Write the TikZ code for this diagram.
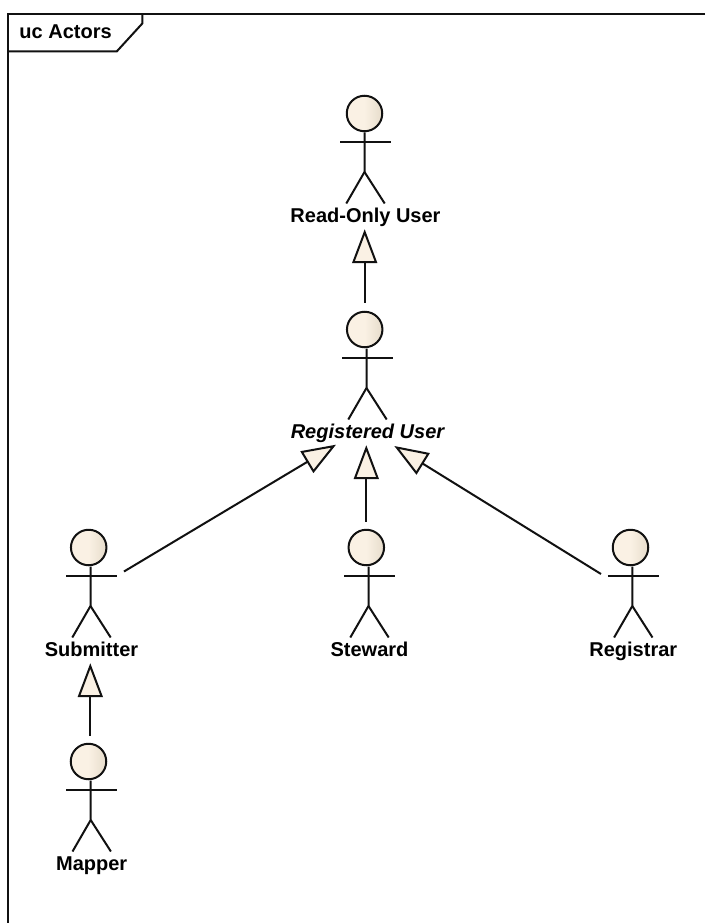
\documentclass[tikz,border=0pt]{standalone}
\usepackage{fontspec}
\setmainfont{Liberation Sans}
\usetikzlibrary{arrows.meta}

\definecolor{actorfill}{HTML}{FAF1E4}
\definecolor{actorshade}{HTML}{E6DCCB}
\definecolor{linecol}{HTML}{111111}

\tikzset{
  stickline/.style={draw=linecol, line width=2pt},
  actorhead/.style={circle, stickline, minimum size=35.5pt, inner sep=0pt, left color=actorfill, right color=actorshade, middle color=actorfill},
  boldtext/.style={font=\fontsize{20}{24}\selectfont\bfseries, inner sep=0pt, text height=14pt, text depth=4pt},
  actorlabel/.style={boldtext, anchor=base},
  genarrow/.style={stickline, -{Triangle[open, length=34pt, width=25pt, fill=actorfill]}},
}

% figure centred on #2, head moved sideways by #4
\newcommand{\actor}[4]{
  \begin{scope}[shift={(#2)}]
    \node[actorhead] (#1) at (#4,0) {};
    \draw[stickline] (-1,19) -- (-1,58.5) -- (-19.2,90);
    \draw[stickline] (-1,58.5) -- (19.2,90);
    \draw[stickline] (-25.5,28) -- (25.5,28);
    \node[actorlabel] (#1label) at (0,109) {#3};
  \end{scope}
}

\begin{document}
\begin{tikzpicture}[x=1pt, y=-1pt]
\useasboundingbox (0,0) rectangle (705,923);

% frame
\coordinate (frametl) at (8.3,14);
\coordinate (frametr) at (705,14);
\coordinate (framebl) at (8.3,923);
\draw[stickline] (frametr) -- (frametl) -- (framebl);
\draw[stickline] (8.3,51.5) -- (116.7,51.5) -- (142.3,23.5) -- (142.3,14);
\node[boldtext, anchor=base west] (title) at (19.3,38.5) {uc Actors};

\actor{readonly}{365.5,113.5}{Read-Only User}{-1}
\actor{registered}{367.5,329.5}{\itshape Registered User}{-2.8}
\actor{submitter}{91.5,547.5}{Submitter}{-2.8}
\actor{steward}{369.5,547.5}{Steward}{-3.2}
\actor{registrar}{633.3,547.5}{Registrar}{-2.8}
\actor{mapper}{91.7,761.5}{Mapper}{-3.2}

\coordinate (submittertail) at (124,571.5);
\coordinate (submittertip) at (336,444.7);
\coordinate (registrartail) at (601,574);
\coordinate (registrartip) at (394.3,446);

\draw[genarrow, shorten <=8pt, shorten >=2.5pt] (registered.north) -- (registered.north |- readonlylabel.south);
\draw[genarrow, shorten <=7pt, shorten >=2.5pt] (steward.north) -- (steward.north |- registeredlabel.south);
\draw[genarrow] (submittertail) -- (submittertip);
\draw[genarrow] (registrartail) -- (registrartip);
\draw[genarrow, shorten <=7pt, shorten >=2.5pt] ([xshift=1.8pt]mapper.north) -- ([xshift=1.8pt]mapper.north |- submitterlabel.south);
\end{tikzpicture}
\end{document}
